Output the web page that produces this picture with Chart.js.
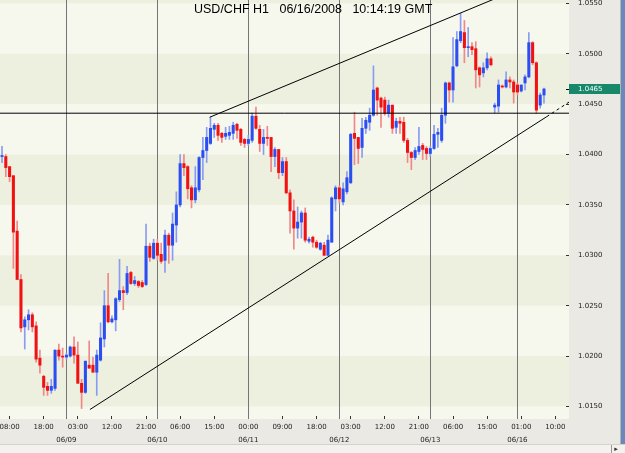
<!DOCTYPE html>
<html>
<head>
<meta charset="utf-8">
<script src="https://cdn.jsdelivr.net/npm/chart.js@4/dist/chart.umd.min.js"></script>
<style>
  html, body { margin: 0; padding: 0; }
  body { width: 625px; height: 453px; position: relative; overflow: hidden; background: #ebe9e3; }
  #wrap { position: absolute; left: 0; top: 0; width: 620px; height: 444px; }
  #title { position: absolute; left: 194px; top: 2px; font: 12.5px "Liberation Sans", Arial, sans-serif; white-space: pre; color: #000; }
  #edge { position: absolute; left: 620px; top: 0; width: 5px; height: 444px; box-sizing: border-box; border-left: 1px solid #b4b4b4; background: #6a88bb; }
  #scroll { position: absolute; left: 0; top: 444px; width: 625px; height: 9px; box-sizing: border-box; border-top: 1px solid #d5d2ca; background: #f3f2ee; }
  #scroll .btn { position: absolute; right: 5px; top: 0; width: 8px; height: 8px; border-left: 1px solid #9a9a9a; font: 7px "DejaVu Sans"; color: #333; text-align: center; line-height: 8px; }
</style>
</head>
<body>
<div id="wrap"><canvas id="chart"></canvas></div>
<div id="title">USD/CHF H1   06/16/2008   10:14:19 GMT</div>
<div id="edge"></div>
<div id="scroll"><div class="btn">&#9656;</div></div>
<script>
// hourly candles, bar index 0 = first visible bar
const open = [
  1.0398,1.0398,1.0388,1.0379,1.0324,1.0276,1.0229,1.0236,1.0241,1.0230,1.0198,1.0180,
  1.0170,1.0166,1.0168,1.0206,1.0200,1.0199,1.0200,1.0209,1.0201,1.0173,1.0164,1.0191,
  1.0191,1.0184,1.0196,1.0217,1.0250,1.0234,1.0236,1.0256,1.0265,1.0263,1.0283,1.0272,
  1.0274,1.0273,1.0271,1.0309,1.0297,1.0312,1.0301,1.0295,1.0320,1.0310,1.0330,1.0350,
  1.0391,1.0388,1.0367,1.0355,1.0365,1.0397,1.0404,1.0411,1.0425,1.0429,1.0421,1.0418,
  1.0419,1.0421,1.0430,1.0425,1.0415,1.0411,1.0414,1.0438,1.0425,1.0411,1.0417,1.0417,
  1.0398,1.0405,1.0382,1.0393,1.0362,1.0344,1.0327,1.0333,1.0342,1.0314,1.0318,1.0313,
  1.0306,1.0310,1.0300,1.0313,1.0356,1.0367,1.0353,1.0363,1.0372,1.0421,1.0417,1.0407,
  1.0426,1.0432,1.0439,1.0466,1.0456,1.0454,1.0441,1.0449,1.0427,1.0433,1.0432,1.0414,
  1.0402,1.0397,1.0403,1.0409,1.0406,1.0401,1.0406,1.0420,1.0414,1.0439,1.0471,1.0464,
  1.0488,1.0513,1.0521,1.0506,1.0507,1.0505,1.0486,1.0481,1.0486,1.0495,1.0447,1.0448,
  1.0468,1.0467,1.0474,1.0472,1.0469,1.0463,1.0471,1.0477,1.0511,1.0491,1.0449,1.0459
];
const high = [
  1.0408,1.0400,1.0388,1.0379,1.0334,1.0281,1.0239,1.0246,1.0243,1.0234,1.0206,1.0181,
  1.0174,1.0177,1.0206,1.0212,1.0208,1.0203,1.0210,1.0219,1.0214,1.0177,1.0195,1.0215,
  1.0199,1.0206,1.0233,1.0265,1.0282,1.0240,1.0258,1.0296,1.0269,1.0289,1.0284,1.0279,
  1.0275,1.0275,1.0331,1.0312,1.0316,1.0316,1.0312,1.0325,1.0322,1.0342,1.0363,1.0400,
  1.0400,1.0389,1.0369,1.0388,1.0398,1.0417,1.0427,1.0437,1.0431,1.0431,1.0422,1.0427,
  1.0428,1.0432,1.0431,1.0426,1.0416,1.0419,1.0441,1.0447,1.0429,1.0425,1.0428,1.0417,
  1.0407,1.0405,1.0397,1.0397,1.0365,1.0355,1.0348,1.0344,1.0347,1.0318,1.0319,1.0315,
  1.0313,1.0313,1.0320,1.0358,1.0369,1.0369,1.0372,1.0383,1.0421,1.0442,1.0417,1.0436,
  1.0437,1.0446,1.0488,1.0467,1.0457,1.0457,1.0454,1.0449,1.0436,1.0437,1.0437,1.0416,
  1.0403,1.0407,1.0427,1.0411,1.0408,1.0408,1.0429,1.0426,1.0446,1.0472,1.0472,1.0516,
  1.0522,1.0540,1.0533,1.0526,1.0511,1.0512,1.0487,1.0491,1.0501,1.0497,1.0451,1.0474,
  1.0469,1.0482,1.0477,1.0474,1.0471,1.0469,1.0479,1.0521,1.0512,1.0492,1.0461,1.0466
];
const low = [
  1.0392,1.0378,1.0373,1.0287,1.0276,1.0224,1.0207,1.0226,1.0224,1.0194,1.0183,1.0161,
  1.0161,1.0163,1.0166,1.0196,1.0189,1.0197,1.0199,1.0193,1.0173,1.0148,1.0163,1.0188,
  1.0184,1.0161,1.0195,1.0209,1.0233,1.0233,1.0225,1.0254,1.0246,1.0261,1.0271,1.0270,
  1.0268,1.0268,1.0270,1.0294,1.0296,1.0295,1.0292,1.0283,1.0292,1.0295,1.0313,1.0348,
  1.0379,1.0356,1.0347,1.0352,1.0363,1.0375,1.0392,1.0410,1.0417,1.0414,1.0412,1.0415,
  1.0415,1.0415,1.0416,1.0409,1.0407,1.0409,1.0412,1.0425,1.0403,1.0400,1.0409,1.0383,
  1.0388,1.0376,1.0379,1.0361,1.0322,1.0306,1.0317,1.0317,1.0313,1.0312,1.0308,1.0307,
  1.0305,1.0300,1.0300,1.0313,1.0344,1.0352,1.0350,1.0361,1.0371,1.0390,1.0391,1.0397,
  1.0421,1.0424,1.0438,1.0439,1.0427,1.0439,1.0437,1.0421,1.0421,1.0421,1.0412,1.0392,
  1.0385,1.0395,1.0400,1.0395,1.0395,1.0398,1.0405,1.0407,1.0412,1.0431,1.0452,1.0452,
  1.0487,1.0511,1.0491,1.0497,1.0499,1.0466,1.0467,1.0477,1.0484,1.0488,1.0441,1.0442,
  1.0466,1.0466,1.0466,1.0451,1.0459,1.0462,1.0464,1.0476,1.0489,1.0441,1.0446,1.0451
];
const close = [
  1.0399,1.0387,1.0378,1.0323,1.0276,1.0228,1.0236,1.0241,1.0229,1.0197,1.0191,1.0169,
  1.0166,1.0170,1.0206,1.0200,1.0199,1.0201,1.0209,1.0201,1.0173,1.0164,1.0195,1.0188,
  1.0184,1.0201,1.0218,1.0250,1.0234,1.0237,1.0257,1.0265,1.0263,1.0282,1.0272,1.0275,
  1.0270,1.0269,1.0309,1.0298,1.0312,1.0300,1.0294,1.0320,1.0310,1.0331,1.0350,1.0391,
  1.0387,1.0366,1.0355,1.0367,1.0397,1.0404,1.0417,1.0426,1.0429,1.0419,1.0417,1.0421,
  1.0422,1.0429,1.0424,1.0412,1.0411,1.0415,1.0438,1.0426,1.0411,1.0417,1.0416,1.0398,
  1.0405,1.0382,1.0393,1.0362,1.0344,1.0327,1.0333,1.0342,1.0315,1.0316,1.0313,1.0308,
  1.0312,1.0300,1.0315,1.0357,1.0367,1.0356,1.0366,1.0377,1.0420,1.0416,1.0406,1.0426,
  1.0434,1.0439,1.0464,1.0454,1.0447,1.0441,1.0449,1.0426,1.0433,1.0431,1.0414,1.0402,
  1.0397,1.0404,1.0408,1.0405,1.0401,1.0406,1.0420,1.0422,1.0439,1.0471,1.0464,1.0487,
  1.0514,1.0522,1.0506,1.0507,1.0504,1.0484,1.0479,1.0486,1.0495,1.0489,1.0449,1.0469,
  1.0467,1.0474,1.0472,1.0462,1.0462,1.0469,1.0477,1.0511,1.0491,1.0444,1.0459,1.0465
];

// axis labels
const yTicks = [1.015, 1.020, 1.025, 1.030, 1.035, 1.040, 1.045, 1.050, 1.055];
const timeIdx = [2, 11, 20, 29, 38, 47, 56, 65, 74, 83, 92, 101, 110, 119, 128, 137, 146];
const timeText = ['08:00', '18:00', '03:00', '12:00', '21:00', '06:00', '15:00', '00:00', '09:00',
  '18:00', '03:00', '12:00', '21:00', '06:00', '15:00', '01:00', '10:00'];
const dayIdx = [17, 41, 65, 89, 113, 136];
const dayText = ['06/09', '06/10', '06/11', '06/12', '06/13', '06/16'];

// drawn objects: [bar index, price]
const hLevel = 1.0441;
const upperTrend = [[54.8, 1.0437], [130, 1.05545]];
const lowerTrend = [[23.2, 1.0147], [143.7, 1.04375]];
const lowerRay = [[143.7, 1.04375], [149.6, 1.0452]];

const xMin = -0.53, xMax = 149.6;
const yMin = 1.01376, yMax = 1.05533;
const bid = close[close.length - 1];

const FONT = { family: 'DejaVu Sans', size: 7 };
const bull = i => close[i] >= open[i];
const pts = arr => arr.map(p => ({ x: p[0], y: p[1] }));
// fixed axis size, and no extra room for labels that overhang the plot
const fixSize = (w, h) => s => {
  if (w) s.width = w;
  if (h) s.height = h;
  s.paddingLeft = s.paddingRight = s.paddingTop = s.paddingBottom = 0;
};

// alternating horizontal bands behind the candles
const bands = {
  id: 'bands',
  beforeDraw(chart) {
    const { ctx, chartArea: a, scales: { y } } = chart;
    ctx.save();
    ctx.fillStyle = '#f6f8ee';
    ctx.fillRect(a.left, a.top, a.width, a.height);
    ctx.fillStyle = '#edf0df';
    for (let i = 0; i < yTicks.length; i += 2) {
      const hi = i + 1 < yTicks.length ? yTicks[i + 1] : y.max;
      const top = Math.max(a.top, y.getPixelForValue(hi));
      const bot = Math.min(a.bottom, y.getPixelForValue(yTicks[i]));
      ctx.fillRect(a.left, top, a.width, bot - top);
    }
    ctx.restore();
  }
};

// green bid price tag on the price axis
const bidTag = {
  id: 'bidTag',
  afterDraw(chart) {
    const { ctx, chartArea: a, scales: { y } } = chart;
    const py = Math.round(y.getPixelForValue(bid));
    ctx.save();
    ctx.fillStyle = '#17896a';
    ctx.fillRect(a.right, py - 5, chart.width - a.right, 10);
    ctx.fillStyle = '#000';
    ctx.fillRect(a.right - 3, py, 3, 1);
    ctx.fillStyle = '#fff';
    ctx.font = '7px "DejaVu Sans"';
    ctx.textBaseline = 'middle';
    ctx.fillText(bid.toFixed(4), a.right + 9, py + 0.5);
    ctx.restore();
  }
};

const lineDs = (data, extra) => Object.assign({
  type: 'line', data, borderColor: '#000', borderWidth: 1, pointRadius: 0, tension: 0, order: 0
}, extra);

new Chart(document.getElementById('chart'), {
  type: 'bar',
  data: {
    datasets: [
      {
        data: open.map((_, i) => ({ x: i, y: [low[i], high[i]] })),
        backgroundColor: c => bull(c.dataIndex) ? '#8a9cf0' : '#f08888',
        barThickness: 1, grouped: false, order: 2
      },
      {
        data: open.map((o, i) => ({ x: i, y: [o, close[i]] })),
        backgroundColor: c => bull(c.dataIndex) ? '#2a4ef2' : '#f01212',
        barThickness: 2.4, minBarLength: 1, grouped: false, order: 1
      },
      lineDs([{ x: xMin, y: hLevel }, { x: xMax, y: hLevel }]),
      lineDs(pts(upperTrend)),
      lineDs(pts(lowerTrend)),
      lineDs(pts(lowerRay), { borderDash: [3, 3] })
    ]
  },
  options: {
    responsive: true,
    maintainAspectRatio: false,
    animation: false,
    events: [],
    layout: { padding: 0 },
    plugins: { legend: { display: false }, tooltip: { enabled: false } },
    scales: {
      x: {
        type: 'linear', min: xMin, max: xMax, offset: false, weight: 0,
        border: { display: false },
        afterBuildTicks: s => { s.ticks = timeIdx.map(v => ({ value: v })); },
        afterFit: fixSize(0, 14),
        grid: { offset: false, drawOnChartArea: false, tickLength: -3, color: '#333' },
        ticks: {
          autoSkip: false, minRotation: 0, maxRotation: 0, padding: 7, color: '#222', font: FONT,
          callback: v => timeText[timeIdx.indexOf(v)]
        }
      },
      xDay: {
        type: 'linear', position: 'bottom', min: xMin, max: xMax, offset: false, weight: 1,
        border: { display: false },
        afterBuildTicks: s => { s.ticks = dayIdx.map(v => ({ value: v })); },
        afterFit: fixSize(0, 11),
        grid: { offset: false, drawTicks: false, color: '#757575' },
        ticks: {
          autoSkip: false, minRotation: 0, maxRotation: 0, padding: 3, color: '#222', font: FONT,
          callback: v => dayText[dayIdx.indexOf(v)]
        }
      },
      y: {
        type: 'linear', position: 'right', min: yMin, max: yMax, beginAtZero: false,
        border: { display: false },
        afterBuildTicks: s => { s.ticks = yTicks.map(v => ({ value: v })); },
        afterFit: fixSize(51, 0),
        grid: { drawOnChartArea: false, tickLength: -3, color: '#333' },
        ticks: { padding: 12, color: '#222', font: FONT, callback: v => v.toFixed(4) }
      }
    }
  },
  plugins: [bands, bidTag]
});
</script>
</body>
</html>
